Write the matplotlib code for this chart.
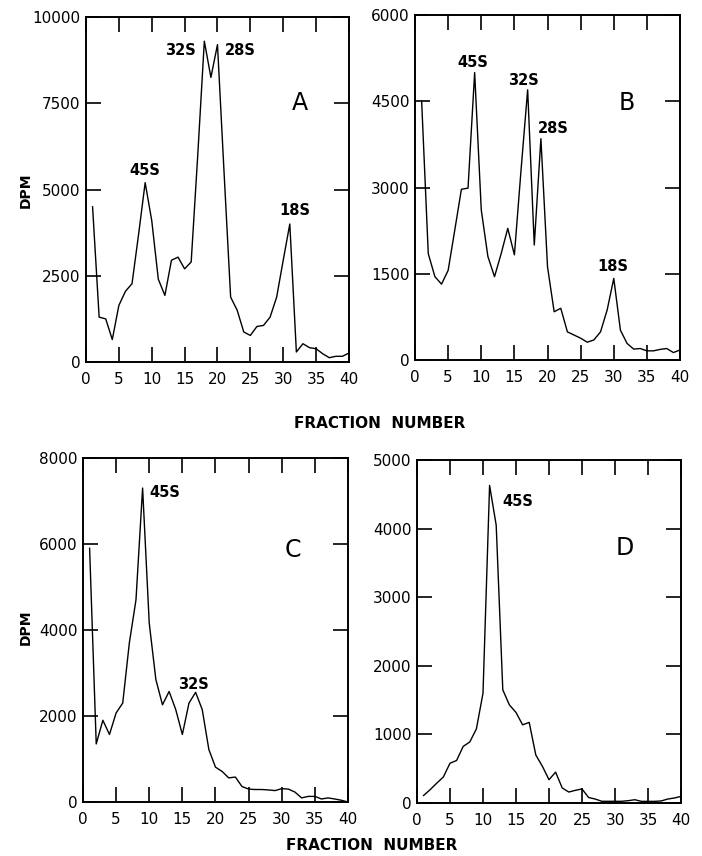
import matplotlib
matplotlib.use('Agg')
import matplotlib.pyplot as plt

# fraction numbers 1..40
fractions = list(range(1, 41))

# DPM values
dpm_a = [4500, 1300, 1250, 650, 1640, 2050, 2270, 3700, 5200, 4100,
         2400, 1930, 2950, 3040, 2700, 2900, 6000, 9300, 8250, 9200,
         5500, 1880, 1500, 870, 770, 1030, 1060, 1300, 1880, 2950,
         4000, 290, 530, 415, 385, 240, 125, 165, 165, 260]
dpm_b = [4500, 1850, 1450, 1320, 1560, 2260, 2970, 2990, 5000, 2610,
         1800, 1450, 1850, 2290, 1830, 3300, 4700, 2000, 3850, 1620,
         840, 900, 490, 435, 380, 310, 350, 490, 870, 1420,
         520, 290, 190, 200, 160, 160, 185, 200, 130, 175]
dpm_c = [5900, 1350, 1900, 1570, 2070, 2300, 3700, 4700, 7300, 4160,
         2850, 2260, 2570, 2150, 1570, 2300, 2550, 2150, 1220, 810,
         710, 560, 580, 360, 300, 290, 290, 280, 265, 310,
         300, 230, 95, 130, 130, 70, 95, 70, 40, 0]
dpm_d = [110, 195, 290, 380, 580, 620, 825, 890, 1080, 1600,
         4630, 4050, 1650, 1430, 1320, 1140, 1175, 700, 535, 340,
         450, 220, 160, 185, 205, 80, 58, 25, 25, 25,
         25, 34, 48, 24, 24, 24, 30, 58, 73, 97]

ymax_list = [10000, 6000, 8000, 5000]
ystep_list = [2500, 1500, 2000, 1000]
panel_names = ['A', 'B', 'C', 'D']
panel_letter_pos = [(32.5, 7500), (32, 4470), (31.7, 5860), (31.5, 3720)]

peak_labels = [
    [('45S', 9.0, 5560), ('32S', 14.3, 9040), ('28S', 23.4, 9040), ('18S', 31.8, 4380)],
    [('45S', 8.75, 5180), ('32S', 16.3, 4870), ('28S', 20.8, 4035), ('18S', 29.9, 1620)],
    [('45S', 12.4, 7190), ('32S', 16.6, 2740)],
    [('45S', 15.3, 4390)],
]

all_data = [dpm_a, dpm_b, dpm_c, dpm_d]

# axes positions (left, bottom, width, height) in figure fraction
positions = [
    [0.1225, 0.5771, 0.3746, 0.4030],
    [0.5912, 0.5794, 0.3775, 0.4030],
    [0.1182, 0.0631, 0.3775, 0.4019],
    [0.5940, 0.0619, 0.3761, 0.4007],
]

fig = plt.figure(figsize=(7.02, 8.56), dpi=100)

for i in range(4):
    ax = fig.add_axes(positions[i])
    ax.plot(fractions, all_data[i], color='black', linewidth=1.0)
    ax.set_xlim(0, 40)
    ax.set_ylim(0, ymax_list[i])
    ax.set_xticks(range(0, 41, 5))
    ax.set_yticks(range(0, ymax_list[i] + 1, ystep_list[i]))
    ax.tick_params(direction='in', length=11, width=1.2, top=True, right=True,
                   labelsize=11)
    ax.tick_params(axis='x', pad=7)
    ax.tick_params(axis='y', pad=4)
    for sp in ax.spines.values():
        sp.set_linewidth(1.4)

    # panel letter
    lx, ly = panel_letter_pos[i]
    ax.text(lx, ly, panel_names[i], fontsize=17, ha='center', va='center')

    # peak labels
    for lab, px, py in peak_labels[i]:
        ax.text(px, py, lab, fontsize=10.5, fontweight='bold', ha='center', va='center')

# y labels
fig.text(26 / 702, 1 - 190 / 856, 'DPM', fontsize=10, fontweight='bold',
         rotation=90, ha='center', va='center')
fig.text(26 / 702, 1 - 627 / 856, 'DPM', fontsize=10, fontweight='bold',
         rotation=90, ha='center', va='center')

fig.text(0.541, 1 - 423 / 856, 'FRACTION  NUMBER', fontsize=11, fontweight='bold',
         ha='center', va='center')
fig.text(0.530, 1 - 846 / 856, 'FRACTION  NUMBER', fontsize=11, fontweight='bold',
         ha='center', va='center')

plt.savefig('out.png', dpi=100)
